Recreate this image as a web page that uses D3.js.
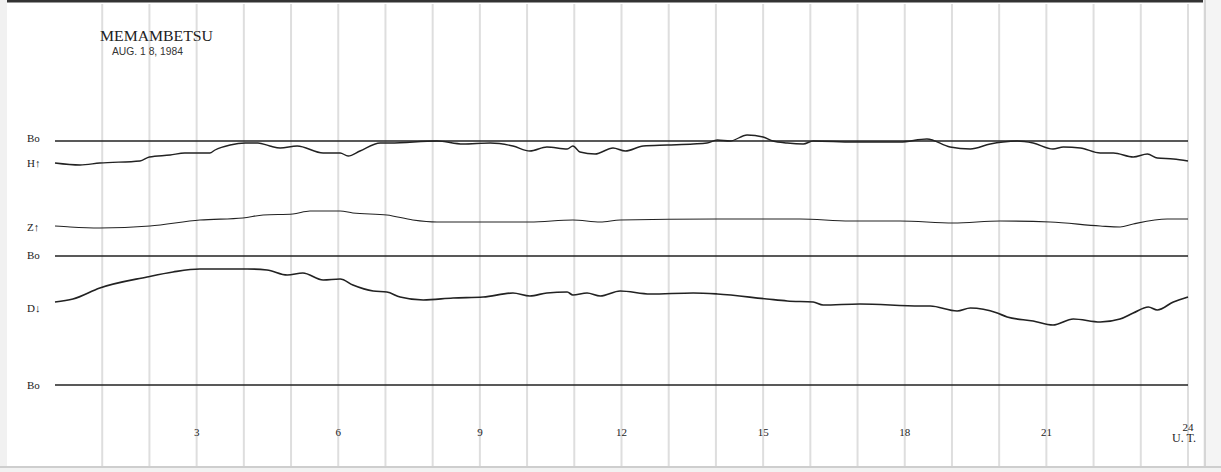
<!DOCTYPE html>
<html>
<head>
<meta charset="utf-8">
<script src="https://cdn.jsdelivr.net/npm/d3@7"></script>
<style>
  body { margin: 0; background: #fff; }
  svg { display: block; }
</style>
</head>
<body>
<svg width="1221" height="472"></svg>
<script>
// hours (U.T.) and deviations from the base line
const hHours = [0, 0.53, 0.95, 1.8, 2.0, 2.44, 2.75, 3.0, 3.28, 3.39, 3.71, 4.03, 4.3, 4.55, 4.77, 5.13, 5.68, 6.04, 6.21, 6.46, 6.89, 7.1, 8.09, 8.64, 9.22, 9.7, 10.06, 10.42, 10.85, 10.97, 11.12, 11.44, 11.82, 12.08, 12.46, 12.97, 13.52, 13.81, 14.03, 14.3, 14.66, 15.0, 15.21, 15.51, 15.85, 16.06, 16.91, 17.9, 18.47, 18.96, 19.39, 19.81, 20.08, 20.38, 20.72, 21.14, 21.36, 21.72, 22.14, 22.42, 22.84, 23.14, 23.35, 23.69, 24.0];
const hValues = [-22, -24, -22, -20, -16, -14, -12, -12, -12, -9, -4, -2, -2, -5, -7, -5, -12, -12, -15, -10, -2, -2, 0, -3, -2, -5, -10, -6, -8, -5, -11, -13, -7, -10, -5, -4, -3, -2, 1, 0, 6, 4, 0, -2, -3, 0, -1, -1, 2, -6, -8, -3, -1, 0, -2, -8, -6, -7, -12, -12, -16, -13, -17, -18, -20];

const zHours = [0, 0.32, 0.95, 2.01, 3.07, 3.98, 4.41, 5.04, 5.4, 6.04, 6.31, 7.03, 7.58, 8.09, 9.0, 10.06, 10.97, 11.55, 11.97, 14.03, 15.78, 16.84, 17.9, 19.03, 20.02, 21.08, 22.14, 22.56, 22.84, 23.56, 24.0];
const zValues = [30, 29, 28, 30, 36, 38, 41, 42, 45, 45, 43, 41, 36, 34, 34, 34, 36, 34, 36, 37, 37, 35, 35, 33, 35, 34, 30, 29, 32, 37, 37];

const dHours = [0, 0.38, 0.95, 1.95, 2.5, 3.07, 4.07, 4.49, 4.92, 5.25, 5.68, 6.04, 6.31, 6.74, 7.03, 7.31, 7.8, 8.43, 9.07, 9.7, 10.06, 10.42, 10.85, 10.97, 11.27, 11.55, 11.97, 12.61, 13.52, 14.03, 15.08, 15.51, 16.06, 16.27, 17.05, 18.33, 18.54, 19.11, 19.39, 19.96, 20.17, 20.72, 21.14, 21.57, 22.14, 22.56, 22.84, 23.16, 23.35, 23.69, 24.0];
const dValues = [46, 43, 32, 21, 16, 13, 13, 14, 19, 17, 24, 23, 29, 35, 36, 41, 44, 42, 41, 37, 40, 37, 36, 39, 37, 40, 35, 38, 37, 38, 43, 45, 46, 49, 48, 50, 50, 55, 52, 57, 61, 65, 69, 63, 66, 63, 57, 51, 54, 46, 41];

const tickHours = [3, 6, 9, 12, 15, 18, 21, 24];

const svg = d3.select('svg');
const W = 1221, H = 472;

svg.append('rect')
  .attr('x', 0).attr('y', 0).attr('width', W).attr('height', H)
  .attr('fill', '#fff');

const x = d3.scaleLinear().domain([0, 24]).range([55, 1188]);

// base lines: H panel, Z/D panel, lower D base line
const baseH = 141, baseZ = 256, baseD = 385;
const yH = d3.scaleLinear().domain([0, -10]).range([baseH, baseH + 10]);
const yZ = d3.scaleLinear().domain([0, 10]).range([baseZ, baseZ - 10]);
const yD = d3.scaleLinear().domain([0, 10]).range([baseZ, baseZ + 10]);

// paper frame
svg.append('rect').attr('x', 0).attr('y', 0).attr('width', W).attr('height', 2.5).attr('fill', '#333');
svg.append('rect').attr('x', 0).attr('y', 0).attr('width', 7).attr('height', H).attr('fill', '#f1f1f1');
svg.append('rect').attr('x', 1203).attr('y', 0).attr('width', 18).attr('height', H).attr('fill', '#f4f4f4');
svg.append('line').attr('x1', 1205).attr('x2', 1205).attr('y1', 0).attr('y2', H)
  .attr('stroke', '#ccc').attr('stroke-width', 1.5);
svg.append('rect').attr('x', 0).attr('y', 466).attr('width', W).attr('height', 6).attr('fill', '#f2f2f2');
svg.append('line').attr('x1', 0).attr('x2', W).attr('y1', 467).attr('y2', 467)
  .attr('stroke', '#aaa').attr('stroke-width', 1);

// hourly grid lines
svg.append('g')
  .selectAll('line')
  .data(d3.range(1, 25))
  .join('line')
  .attr('x1', d => x(d)).attr('x2', d => x(d))
  .attr('y1', 4).attr('y2', 466)
  .attr('stroke', '#dedede')
  .attr('stroke-width', 2);

// base lines
svg.append('g')
  .selectAll('line')
  .data([baseH, baseZ, baseD])
  .join('line')
  .attr('x1', x(0)).attr('x2', x(24))
  .attr('y1', d => d).attr('y2', d => d)
  .attr('stroke', '#222')
  .attr('stroke-width', 1.6);

function trace(hours, values, yScale, width) {
  const pts = hours.map((h, i) => [h, values[i]]);
  svg.append('path')
    .datum(pts)
    .attr('fill', 'none')
    .attr('stroke', '#222')
    .attr('stroke-width', width)
    .attr('stroke-linejoin', 'round')
    .attr('d', d3.line().curve(d3.curveMonotoneX)
      .x(d => x(d[0])).y(d => yScale(d[1])));
}
trace(hHours, hValues, yH, 1.4);
trace(zHours, zValues, yZ, 1.1);
trace(dHours, dValues, yD, 1.7);

// left labels
const serif = '"Liberation Serif", "DejaVu Serif", serif';
const labels = [
  ['Bo', baseH + 1], ['H\u2191', 167], ['Z\u2191', 231],
  ['Bo', baseZ + 3], ['D\u2193', 312], ['Bo', baseD + 4]
];
svg.append('g')
  .selectAll('text')
  .data(labels)
  .join('text')
  .attr('x', 27).attr('y', d => d[1])
  .attr('font-family', serif)
  .attr('font-size', 11)
  .attr('fill', '#222')
  .text(d => d[0]);

// title
svg.append('text')
  .attr('x', 100).attr('y', 41)
  .attr('font-family', serif).attr('font-size', 15)
  .attr('textLength', 113).attr('lengthAdjust', 'spacingAndGlyphs')
  .attr('fill', '#222')
  .text('MEMAMBETSU');
svg.append('text')
  .attr('x', 112).attr('y', 55)
  .attr('font-family', '"Liberation Sans Narrow", "Liberation Sans", sans-serif').attr('font-size', 11)
  .attr('textLength', 71).attr('lengthAdjust', 'spacingAndGlyphs')
  .attr('fill', '#333')
  .text('AUG. 1 8, 1984');

// hour ticks
svg.append('g')
  .selectAll('text')
  .data(tickHours)
  .join('text')
  .attr('x', d => x(d))
  .attr('y', d => d === 24 ? 431 : 436)
  .attr('text-anchor', 'middle')
  .attr('font-family', serif)
  .attr('font-size', 11)
  .attr('fill', '#222')
  .text(d => d);
svg.append('text')
  .attr('x', x(24) - 4).attr('y', 442)
  .attr('text-anchor', 'middle')
  .attr('font-family', serif).attr('font-size', 12)
  .attr('fill', '#222')
  .text('U. T.');
</script>
</body>
</html>
